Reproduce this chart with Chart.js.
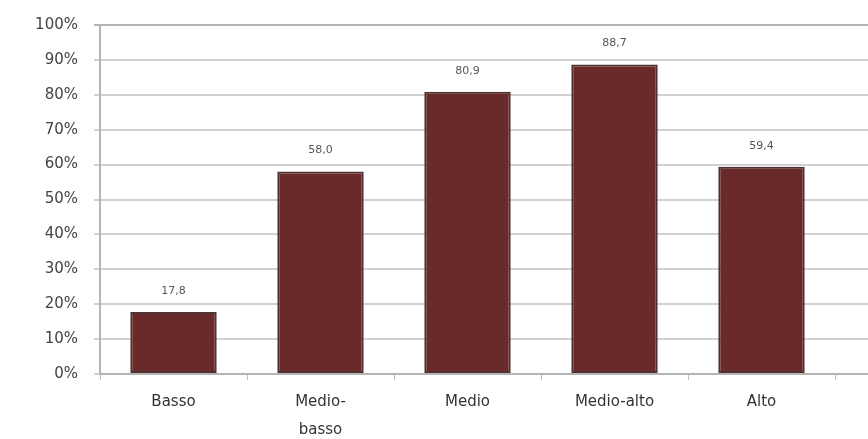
<!DOCTYPE html>
<html>
<head>
<meta charset="utf-8">
<script src="https://cdn.jsdelivr.net/npm/chart.js@4.4.1/dist/chart.umd.min.js"></script>
<style>
html,body{margin:0;padding:0;background:#fff;}
#wrap{width:868px;height:439px;position:relative;}
</style>
</head>
<body>
<div id="wrap"><canvas id="c" width="868" height="439"></canvas></div>
<script>
const categories = ['Basso', ['Medio-', 'basso'], 'Medio', 'Medio-alto', 'Alto'];
const values = [17.8, 58.0, 80.9, 88.7, 59.4];
const valueLabels = ['17,8', '58,0', '80,9', '88,7', '59,4'];
const yTicks = [0, 10, 20, 30, 40, 50, 60, 70, 80, 90, 100];

const extendGrid = {
  id: 'extendGrid',
  beforeDatasetsDraw(chart) {
    const ctx = chart.ctx, ca = chart.chartArea, y = chart.scales.y;
    ctx.save();
    yTicks.forEach(v => {
      const py = Math.round(y.getPixelForValue(v));
      ctx.strokeStyle = (v === 0 || v === 100) ? '#b4b4b4' : '#d2d2d2';
      ctx.lineWidth = 2;
      ctx.beginPath();
      ctx.moveTo(ca.right, py);
      ctx.lineTo(chart.width, py);
      ctx.stroke();
    });
    ctx.restore();
  },
  afterDatasetsDraw(chart) {
    const ctx = chart.ctx;
    const meta = chart.getDatasetMeta(0);
    ctx.save();
    ctx.font = '11px "DejaVu Sans", sans-serif';
    ctx.fillStyle = '#555555';
    ctx.textAlign = 'center';
    ctx.textBaseline = 'middle';
    meta.data.forEach((bar, i) => {
      ctx.fillText(valueLabels[i], bar.x, bar.y - 21);
    });
    ctx.restore();
  }
};

new Chart(document.getElementById('c'), {
  type: 'bar',
  data: {
    labels: categories,
    datasets: [{
      data: values,
      backgroundColor: '#6b2a2a',
      borderColor: '#4f3232',
      borderWidth: 2,
      borderSkipped: false,
      barPercentage: 0.84,
      categoryPercentage: 0.7
    }]
  },
  options: {
    responsive: false,
    animation: false,
    devicePixelRatio: 1,
    layout: { padding: { top: 24, right: 33, bottom: 0, left: 0 } },
    plugins: { legend: { display: false }, tooltip: { enabled: false } },
    scales: {
      x: {
        grid: { display: true, offset: true, drawOnChartArea: false, tickLength: 6, color: '#c0c0c0', lineWidth: 1 },
        border: { display: true, color: '#b4b4b4', width: 2 },
        ticks: { color: '#333333', font: { family: '"DejaVu Sans", sans-serif', size: 15, lineHeight: 1.87 }, maxRotation: 0, autoSkip: false, padding: 8 },
        afterFit(s) { s.height = 65; }
      },
      y: {
        min: 0, max: 100,
        afterBuildTicks(s) { s.ticks = yTicks.map(v => ({ value: v })); },
        grid: { color: ctx => (ctx.tick && ctx.tick.value === 100) ? '#b4b4b4' : '#d2d2d2', lineWidth: 2, tickLength: 6 },
        border: { display: true, color: '#b4b4b4', width: 2 },
        ticks: { color: '#444444', font: { family: '"DejaVu Sans", sans-serif', size: 15 }, padding: 16, callback: v => v + '%' },
        afterFit(s) { s.width = 100; }
      }
    }
  },
  plugins: [extendGrid]
});
</script>
</body>
</html>
